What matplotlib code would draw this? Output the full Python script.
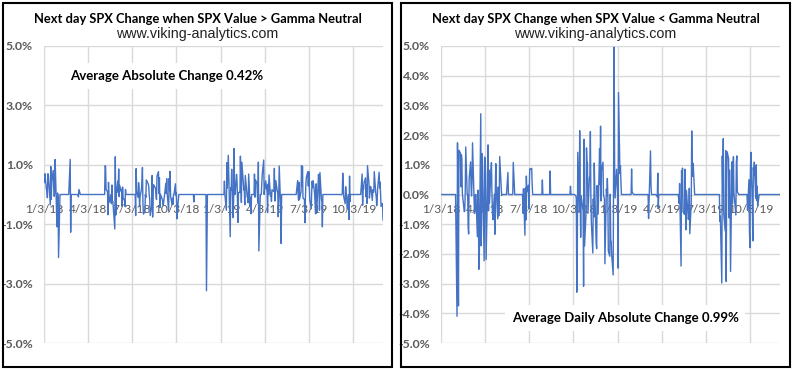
import numpy as np
import pandas as pd
import matplotlib
matplotlib.use("Agg")
from matplotlib import pyplot as plt
from matplotlib.patches import Rectangle

# SPX daily % change, one list per month (trading days in order)
spx_change = {
    "2018-01": [0.64, 0.40, 0.70, 0.17, 0.13, -0.11, 0.70, 0.67, -0.35, 0.94,
                -0.16, 0.44, 0.81, 0.22, -0.06, 0.06, 1.18, -0.67, -1.09, 0.05],
    "2018-02": [-0.07, -2.12, -4.10, 1.74, -0.50, -3.75, 1.49, 1.39, 0.26, 1.34,
                1.21, 0.04, -0.58, -0.55, 0.10, 1.60, 1.18, -1.27, -1.11],
    "2018-03": [-1.33, 0.51, 1.10, 0.26, -0.05, 0.45, 1.74, -0.13, -0.64, -0.57,
                -0.08, 0.17, -1.42, 0.15, -0.18, -2.52, -2.10, 2.72, -1.73, -0.29, 1.38],
    "2018-04": [-2.23, 1.26, 1.16, 0.69, -2.19, 0.33, 1.67, -0.55, 0.82, -0.29,
                0.81, 1.07, 0.08, -0.57, -0.85, 0.01, -1.34, 0.18, 1.04, 0.11, -0.82],
    "2018-05": [0.25, -0.72, -0.23, 1.28, 0.35, -0.03, 0.97, 0.94, 0.17, 0.09,
                -0.68, 0.41, -0.09, -0.26, 0.74, -0.31, 0.32, -0.20, -0.24, -1.16, 1.27, -0.69],
    "2018-06": [1.08, 0.45, 0.07, 0.86, -0.07, 0.31, 0.11, 0.17, -0.40, 0.25,
                -0.10, -0.21, -0.40, 0.17, -0.63, 0.19, -1.37, 0.22, -0.86, 0.62, 0.08],
    "2018-07": [0.31, -0.49, 0.86, 0.85, 0.88, 0.35, -0.71, 0.87, 0.11, -0.10,
                0.40, 0.22, -0.40, -0.09, 0.18, 0.48, 0.91, -0.30, -0.66, -0.58, 0.49],
    "2018-08": [-0.10, 0.49, 0.46, 0.35, 0.28, -0.03, -0.14, -0.71, -0.40, 0.64,
                -0.76, 0.79, 0.33, 0.24, 0.21, -0.04, -0.17, 0.62, 0.77, 0.03, 0.57, -0.44, 0.01],
    "2018-09": [-0.17, -0.28, -0.37, -0.22, 0.19, 0.37, 0.04, 0.53, 0.03, -0.56,
                0.54, 0.13, 0.78, -0.04, -0.35, -0.13, -0.33, 0.28, 0.00],
    "2018-10": [0.36, -0.04, 0.07, -0.82, -0.55, -0.04, -0.14, -3.29, -2.06, 1.42,
                -0.59, 2.15, -0.03, -1.44, -0.04, -0.43, -0.55, -3.09, 1.86, -1.73, -0.66, 1.57, 1.09],
    "2018-11": [1.06, -0.63, 0.56, 0.63, 2.12, -0.25, -0.92, -1.97, -0.15, -0.76,
                1.06, 0.22, -1.66, -1.82, 0.30, -0.66, 1.55, 0.33, 2.30, -0.22, 0.82],
    "2018-12": [1.09, -3.24, -0.15, -2.33, 0.18, -0.04, 0.54, -0.02, -1.91, -2.08,
                0.01, -1.54, -1.58, -2.06, -2.71, 4.96, 0.86, -0.12, 0.85],
    "2019-01": [0.13, -2.48, 3.43, 0.70, 0.97, 0.41, 0.45, -0.01, -0.53, 1.07,
                0.22, 0.76, 1.32, -1.42, 0.22, 0.14, 0.85, -0.78, -0.15, 1.55, 0.86],
    "2019-02": [0.09, 0.68, 0.47, -0.22, -0.94, 0.07, 0.07, 1.29, 0.30, -0.27,
                1.09, 0.15, 0.18, -0.35, 0.64, 0.12, -0.08, -0.05, -0.28],
    "2019-03": [0.69, -0.39, -0.11, -0.65, -0.81, -0.21, 1.47, 0.30, 0.69, -0.09,
                0.50, 0.37, -0.01, -0.29, 1.09, -1.90, -0.08, 0.72, -0.46, 0.36, 0.67],
    "2019-04": [1.16, 0.00, 0.21, 0.21, 0.46, 0.10, -0.61, 0.35, 0.00, 0.66,
                -0.06, 0.05, -0.23, 0.16, 0.10, 0.88, -0.22, -0.04, 0.47, 0.11, 0.10],
    "2019-05": [-0.75, -0.21, 0.96, -0.45, -1.65, -0.16, -0.30, 0.37, -2.41, 0.80,
                0.58, 0.89, -0.58, -0.67, 0.85, -0.28, -1.19, 0.14, -0.84, -0.69, 0.21, -1.32],
    "2019-06": [-0.28, 2.14, 0.82, 0.61, 1.05, 0.47, -0.03, -0.20, 0.41, -0.16,
                0.09, 0.97, 0.30, 0.95, -0.12, -0.17, -0.95, -0.12, 0.38, 0.58],
    "2019-07": [0.77, 0.29, 0.77, -0.18, -0.48, 0.12, 0.45, 0.23, 0.46, 0.02,
                -0.34, -0.65, 0.36, -0.62, 0.28, 0.68, 0.47, -0.53, 0.74, -0.16, -0.26, -1.09],
    "2019-08": [-0.90, -0.73, -2.98, 1.30, 0.08, 1.88, -0.66, -1.23, 1.48, -2.93,
                0.25, 1.44, 1.21, -0.79, 0.82, -0.05, -2.59, 1.10, -0.32, 0.65, 1.27, 0.06],
    "2019-09": [-0.69, 1.08, 1.30, 0.09, -0.01, 0.03, 0.72, 0.29, -0.07, -0.31,
                0.26, 0.03, 0.00, -0.49, -0.01, -0.84, 0.62, -0.24, -0.53, 0.50],
    "2019-10": [-1.23, -1.79, 0.80, 1.42, -0.45, -1.56, 0.91, 0.64, 1.09, -0.14,
                1.00, -0.20, 0.28, -0.39, 0.69, -0.36, 0.28, 0.19, 0.41, 0.56, -0.08, 0.33, -0.30],
    "2019-11": [0.97, 0.37, -0.12, 0.07, 0.27, 0.26, -0.20, 0.16, 0.07, 0.08,
                0.77, 0.05, -0.06, -0.38, -0.16, 0.22, 0.75, 0.22, 0.42, -0.40],
    "2019-12": [-0.30, -0.86],
}
first_day, last_day = "2018-01-03", "2019-12-03"
market_holidays = ["2018-01-15", "2018-02-19", "2018-03-30", "2018-05-28", "2018-07-04",
                   "2018-09-03", "2018-11-22", "2018-12-05", "2018-12-25", "2019-01-01",
                   "2019-01-21", "2019-02-18", "2019-04-19", "2019-05-27", "2019-07-04",
                   "2019-09-02", "2019-11-28"]

# periods with SPX above gamma neutral (left chart); every other day is below (right chart)
above_gamma = [
    ("2018-01-03", "2018-02-02"), ("2018-02-26", "2018-02-27"), ("2018-03-15", "2018-03-16"),
    ("2018-05-09", "2018-05-18"), ("2018-05-22", "2018-05-31"), ("2018-06-04", "2018-06-20"),
    ("2018-07-11", "2018-07-30"), ("2018-08-01", "2018-08-15"), ("2018-08-17", "2018-09-26"),
    ("2018-09-28", "2018-10-05"), ("2018-11-08", "2018-11-08"), ("2018-12-04", "2018-12-04"),
    ("2019-01-10", "2019-01-30"), ("2019-02-04", "2019-03-06"), ("2019-03-13", "2019-03-22"),
    ("2019-03-28", "2019-05-07"), ("2019-06-10", "2019-07-31"), ("2019-09-09", "2019-09-26"),
    ("2019-10-21", "2019-12-03"),
]

date_ticks = ["2018-01-03", "2018-04-03", "2018-07-03", "2018-10-03",
              "2019-01-03", "2019-04-03", "2019-07-03", "2019-10-03"]
date_tick_labels = ["1/3/18", "4/3/18", "7/3/18", "10/3/18",
                    "1/3/19", "4/3/19", "7/3/19", "10/3/19"]

titles = ["Next day SPX Change when SPX Value > Gamma Neutral",
          "Next day SPX Change when SPX Value < Gamma Neutral"]
subtitle = "www.viking-analytics.com"
notes = ["Average Absolute Change 0.42%", "Average Daily Absolute Change 0.99%"]
yticks_left = [-5, -3, -1, 1, 3, 5]
yticks_right = [-5, -4, -3, -2, -1, 0, 1, 2, 3, 4, 5]

LINE = "#4472C4"
GRID = "#D9D9D9"
TICK = "#595959"
W, H = 794, 371


def trading_days(month):
    start = pd.Timestamp(month + "-01")
    days = pd.bdate_range(start, start + pd.offsets.MonthEnd(0))
    days = days[~days.isin(pd.to_datetime(market_holidays))]
    return days[(days >= first_day) & (days <= last_day)]


dates, values = [], []
for month, vals in spx_change.items():
    days = trading_days(month)
    if len(days) != len(vals):
        raise ValueError(f"{month}: {len(days)} days but {len(vals)} values")
    dates.extend(days)
    values.extend(vals)
dates = pd.DatetimeIndex(dates)
values = np.array(values)

above = np.zeros(len(dates), dtype=bool)
for a, b in above_gamma:
    above |= (dates >= a) & (dates <= b)
left_series = np.where(above, values, 0.0)
right_series = np.where(above, 0.0, values)


def px_axes(x0, x1, y0, y1):
    return [x0 / W, 1 - y1 / H, (x1 - x0) / W, (y1 - y0) / H]


def draw_panel(fig, box, plot, series, yticks, title, note, note_pos):
    bx0, bx1 = box
    fig.add_artist(Rectangle((bx0 / W, 4 / H), (bx1 - bx0) / W, 364 / H,
                             transform=fig.transFigure, fill=False,
                             edgecolor="black", linewidth=1.5))
    cx = (bx0 + bx1) / 2 / W
    fig.text(cx, 1 - 19 / H, title, ha="center", va="center",
             fontsize=9.3, fontweight="bold", family="Lato")
    fig.text(cx, 1 - 34 / H, subtitle, ha="center", va="center",
             fontsize=10.3, family="Liberation Sans", color="#222222")

    ax = fig.add_axes(px_axes(*plot))
    ax.plot(dates, series, color=LINE, linewidth=1.0, zorder=3)
    ax.set_xlim(pd.Timestamp(first_day), pd.Timestamp(last_day))
    ax.set_ylim(-5, 5)
    ax.set_yticks(yticks)
    ax.set_yticklabels([f"{v:.1f}%" for v in yticks])
    ax.set_xticks(pd.to_datetime(date_ticks))
    ax.set_xticklabels(date_tick_labels)
    ax.grid(True, color=GRID, linewidth=1.0, zorder=0)
    ax.set_axisbelow(True)
    for side in ("left", "right", "top"):
        ax.spines[side].set_visible(False)
    ax.spines["bottom"].set_position(("data", 0))
    ax.spines["bottom"].set_visible(False)
    ax.tick_params(axis="x", length=0, pad=6.5, labelsize=8.6, labelcolor=TICK)
    ax.tick_params(axis="y", length=0, pad=8, labelsize=8.8, labelcolor=TICK)
    for lbl in ax.get_xticklabels() + ax.get_yticklabels():
        lbl.set_family("Lato")
    for lbl in ax.get_yticklabels():
        lbl.set_fontweight("bold")
    ax.text(note_pos[0], note_pos[1], note, transform=ax.transAxes,
            ha="center", va="center", fontsize=9.5, fontweight="bold",
            family="Lato", zorder=5,
            bbox=dict(boxstyle="square,pad=0.5", facecolor="white", edgecolor="none"))
    return ax


fig = plt.figure(figsize=(W / 100, H / 100), dpi=100)
draw_panel(fig, (3, 392), (44, 383, 46, 343), left_series, yticks_left,
           titles[0], notes[0], (0.361, 0.899))
draw_panel(fig, (401, 790), (441, 780, 46, 343), right_series, yticks_right,
           titles[1], notes[1], (0.544, 0.084))
fig.savefig("out.png", dpi=100)
